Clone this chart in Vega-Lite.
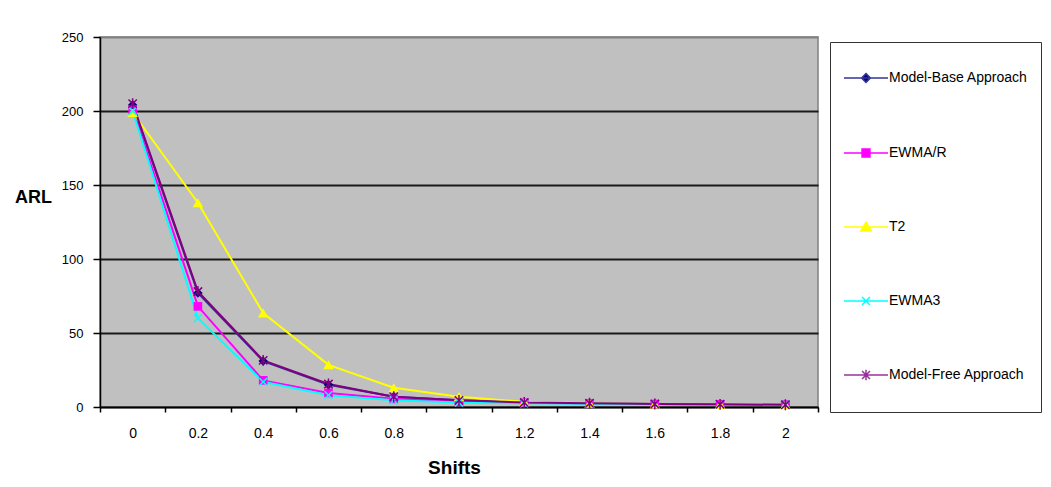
{
  "$schema": "https://vega.github.io/schema/vega-lite/v6.json",
  "width": 718,
  "height": 370,
  "autosize": {"type": "none"},
  "padding": {"left": 100, "top": 37, "right": 233, "bottom": 80},
  "background": "#FFFFFF",
  "config": {
    "view": {"fill": "#C0C0C0", "stroke": "#808080", "strokeWidth": 1.5},
    "font": "Liberation Sans",
    "axis": {"labelColor": "#000000", "titleColor": "#000000", "labelFont": "Liberation Sans", "titleFont": "Liberation Sans"}
  },
  "datasets": {
    "arl": [
      {"shift": "0", "series": "Model-Base Approach", "arl": 204},
      {"shift": "0.2", "series": "Model-Base Approach", "arl": 77},
      {"shift": "0.4", "series": "Model-Base Approach", "arl": 31},
      {"shift": "0.6", "series": "Model-Base Approach", "arl": 15},
      {"shift": "0.8", "series": "Model-Base Approach", "arl": 7},
      {"shift": "1", "series": "Model-Base Approach", "arl": 4.5},
      {"shift": "1.2", "series": "Model-Base Approach", "arl": 3},
      {"shift": "1.4", "series": "Model-Base Approach", "arl": 2.5},
      {"shift": "1.6", "series": "Model-Base Approach", "arl": 2},
      {"shift": "1.8", "series": "Model-Base Approach", "arl": 1.8},
      {"shift": "2", "series": "Model-Base Approach", "arl": 1.5},
      {"shift": "0", "series": "EWMA/R", "arl": 201},
      {"shift": "0.2", "series": "EWMA/R", "arl": 68},
      {"shift": "0.4", "series": "EWMA/R", "arl": 18},
      {"shift": "0.6", "series": "EWMA/R", "arl": 9.5},
      {"shift": "0.8", "series": "EWMA/R", "arl": 5.5},
      {"shift": "1", "series": "EWMA/R", "arl": 3.5},
      {"shift": "1.2", "series": "EWMA/R", "arl": 2.8},
      {"shift": "1.4", "series": "EWMA/R", "arl": 2.3},
      {"shift": "1.6", "series": "EWMA/R", "arl": 2},
      {"shift": "1.8", "series": "EWMA/R", "arl": 1.8},
      {"shift": "2", "series": "EWMA/R", "arl": 1.6},
      {"shift": "0", "series": "T2", "arl": 199},
      {"shift": "0.2", "series": "T2", "arl": 138},
      {"shift": "0.4", "series": "T2", "arl": 63.5},
      {"shift": "0.6", "series": "T2", "arl": 28.5},
      {"shift": "0.8", "series": "T2", "arl": 13},
      {"shift": "1", "series": "T2", "arl": 7},
      {"shift": "1.2", "series": "T2", "arl": 3.5},
      {"shift": "1.4", "series": "T2", "arl": 2.5},
      {"shift": "1.6", "series": "T2", "arl": 2},
      {"shift": "1.8", "series": "T2", "arl": 1.8},
      {"shift": "2", "series": "T2", "arl": 1.6},
      {"shift": "0", "series": "EWMA3", "arl": 200},
      {"shift": "0.2", "series": "EWMA3", "arl": 60},
      {"shift": "0.4", "series": "EWMA3", "arl": 17},
      {"shift": "0.6", "series": "EWMA3", "arl": 8},
      {"shift": "0.8", "series": "EWMA3", "arl": 4.5},
      {"shift": "1", "series": "EWMA3", "arl": 3},
      {"shift": "1.2", "series": "EWMA3", "arl": 2.5},
      {"shift": "1.4", "series": "EWMA3", "arl": 2.2},
      {"shift": "1.6", "series": "EWMA3", "arl": 2},
      {"shift": "1.8", "series": "EWMA3", "arl": 1.8},
      {"shift": "2", "series": "EWMA3", "arl": 1.6},
      {"shift": "0", "series": "Model-Free Approach", "arl": 205},
      {"shift": "0.2", "series": "Model-Free Approach", "arl": 78},
      {"shift": "0.4", "series": "Model-Free Approach", "arl": 31.5},
      {"shift": "0.6", "series": "Model-Free Approach", "arl": 15.5},
      {"shift": "0.8", "series": "Model-Free Approach", "arl": 7},
      {"shift": "1", "series": "Model-Free Approach", "arl": 4.5},
      {"shift": "1.2", "series": "Model-Free Approach", "arl": 3},
      {"shift": "1.4", "series": "Model-Free Approach", "arl": 2.5},
      {"shift": "1.6", "series": "Model-Free Approach", "arl": 2},
      {"shift": "1.8", "series": "Model-Free Approach", "arl": 1.8},
      {"shift": "2", "series": "Model-Free Approach", "arl": 1.5}
    ]
  },
  "data": {"name": "arl"},
  "encoding": {
    "x": {
      "field": "shift", "type": "ordinal",
      "sort": ["0", "0.2", "0.4", "0.6", "0.8", "1", "1.2", "1.4", "1.6", "1.8", "2"],
      "scale": {"type": "band", "paddingInner": 0, "paddingOuter": 0},
      "axis": {
        "title": "Shifts", "titleFontSize": 19, "titleFontWeight": "bold",
        "titleX": 354, "titleY": 60, "titleBaseline": "middle", "titleAlign": "center",
        "labelAngle": 0, "labelFontSize": 14, "labelPadding": 14,
        "tickBand": "extent", "tickSize": 5, "tickColor": "#000000", "tickWidth": 1.5,
        "domainColor": "#000000", "domainWidth": 1.5, "grid": false
      }
    },
    "y": {
      "field": "arl", "type": "quantitative",
      "scale": {"domain": [0, 250], "nice": false},
      "axis": {
        "title": "ARL", "titleFontSize": 18, "titleFontWeight": "bold", "titleAngle": 0,
        "titleX": -67, "titleY": 160, "titleAlign": "center", "titleBaseline": "middle",
        "values": [0, 50, 100, 150, 200, 250],
        "labelFontSize": 13, "labelPadding": 10,
        "tickSize": 7, "tickColor": "#000000", "tickWidth": 1.5,
        "domainColor": "#000000", "domainWidth": 1.5,
        "grid": true, "gridWidth": 1.8,
        "gridColor": {"condition": {"test": "datum.value == 250", "value": "#808080"}, "value": "#1A1A1A"}
      }
    }
  },
  "layer": [
    {
      "mark": {"type": "point", "opacity": 0, "strokeWidth": 1.5},
      "encoding": {
        "fill": {
          "field": "series", "type": "nominal",
          "scale": {
            "domain": ["Model-Base Approach", "EWMA/R", "T2", "EWMA3", "Model-Free Approach"],
            "range": ["#000080", "#FF00FF", "#FFFF00", "#00FFFF", "#800080"]
          },
          "legend": {
            "title": " ", "titleOrient": "bottom", "titleFontSize": 12, "titlePadding": 5,
            "orient": "none", "legendX": 730, "legendY": 5,
            "strokeColor": "#333333", "padding": 13,
            "symbolSize": 1936, "symbolStrokeWidth": 1.5, "symbolOpacity": 1,
            "labelFont": "Liberation Sans", "labelFontSize": 14, "labelColor": "#000000",
            "labelOffset": 0, "rowPadding": 44
          }
        },
        "stroke": {
          "field": "series", "type": "nominal",
          "scale": {
            "domain": ["Model-Base Approach", "EWMA/R", "T2", "EWMA3", "Model-Free Approach"],
            "range": ["#333399", "#FF00FF", "#FFFF00", "#00FFFF", "#993399"]
          },
          "legend": {
            "title": " ", "titleOrient": "bottom", "titleFontSize": 12, "titlePadding": 5,
            "orient": "none", "legendX": 730, "legendY": 5,
            "strokeColor": "#333333", "padding": 13,
            "symbolSize": 1936, "symbolStrokeWidth": 1.5, "symbolOpacity": 1,
            "labelFont": "Liberation Sans", "labelFontSize": 14, "labelColor": "#000000",
            "labelOffset": 0, "rowPadding": 44
          }
        },
        "shape": {
          "field": "series", "type": "nominal",
          "scale": {
            "domain": ["Model-Base Approach", "EWMA/R", "T2", "EWMA3", "Model-Free Approach"],
            "range": [
              "M-1,0H1M0,-0.2L0.2,0L0,0.2L-0.2,0Z",
              "M-1,0H1M-0.18,-0.18H0.18V0.18H-0.18Z",
              "M-1,0H1M0,-0.22L0.24,0.18H-0.24Z",
              "M-1,0H1M-0.18,-0.18L0.18,0.18M0.18,-0.18L-0.18,0.18",
              "M-1,0H1M-0.18,-0.18L0.18,0.18M0.18,-0.18L-0.18,0.18M0,-0.24V0.24"
            ]
          },
          "legend": {
            "title": " ", "titleOrient": "bottom", "titleFontSize": 12, "titlePadding": 5,
            "orient": "none", "legendX": 730, "legendY": 5,
            "strokeColor": "#333333", "padding": 13,
            "symbolSize": 1936, "symbolStrokeWidth": 1.5, "symbolOpacity": 1,
            "labelFont": "Liberation Sans", "labelFontSize": 14, "labelColor": "#000000",
            "labelOffset": 0, "rowPadding": 44
          }
        }
      }
    },
    {
      "mark": {"type": "line", "strokeWidth": 2},
      "encoding": {
        "color": {
          "field": "series", "type": "nominal",
          "scale": {
            "domain": ["Model-Base Approach", "EWMA/R", "T2", "EWMA3", "Model-Free Approach"],
            "range": ["#333399", "#FF00FF", "#FFFF00", "#00FFFF", "#800080"]
          },
          "legend": null
        }
      }
    },
    {
      "transform": [{"filter": "datum.series == 'Model-Base Approach'"}],
      "mark": {"type": "point", "shape": "diamond", "filled": true, "color": "#000080", "size": 90, "opacity": 1}
    },
    {
      "transform": [{"filter": "datum.series == 'EWMA/R'"}],
      "mark": {"type": "point", "shape": "square", "filled": true, "color": "#FF00FF", "size": 75, "opacity": 1}
    },
    {
      "transform": [{"filter": "datum.series == 'T2'"}],
      "mark": {"type": "point", "shape": "triangle-up", "filled": true, "color": "#FFFF00", "size": 110, "opacity": 1}
    },
    {
      "transform": [{"filter": "datum.series == 'EWMA3'"}],
      "mark": {"type": "point", "shape": "M-1,-1L1,1M1,-1L-1,1", "filled": false, "color": "#00FFFF", "strokeWidth": 1.5, "size": 60, "opacity": 1}
    },
    {
      "transform": [{"filter": "datum.series == 'Model-Free Approach'"}],
      "mark": {"type": "point", "shape": "M-1,-1L1,1M1,-1L-1,1M0,-1.3L0,1.3", "filled": false, "color": "#800080", "strokeWidth": 1.5, "size": 70, "opacity": 1}
    }
  ]
}
